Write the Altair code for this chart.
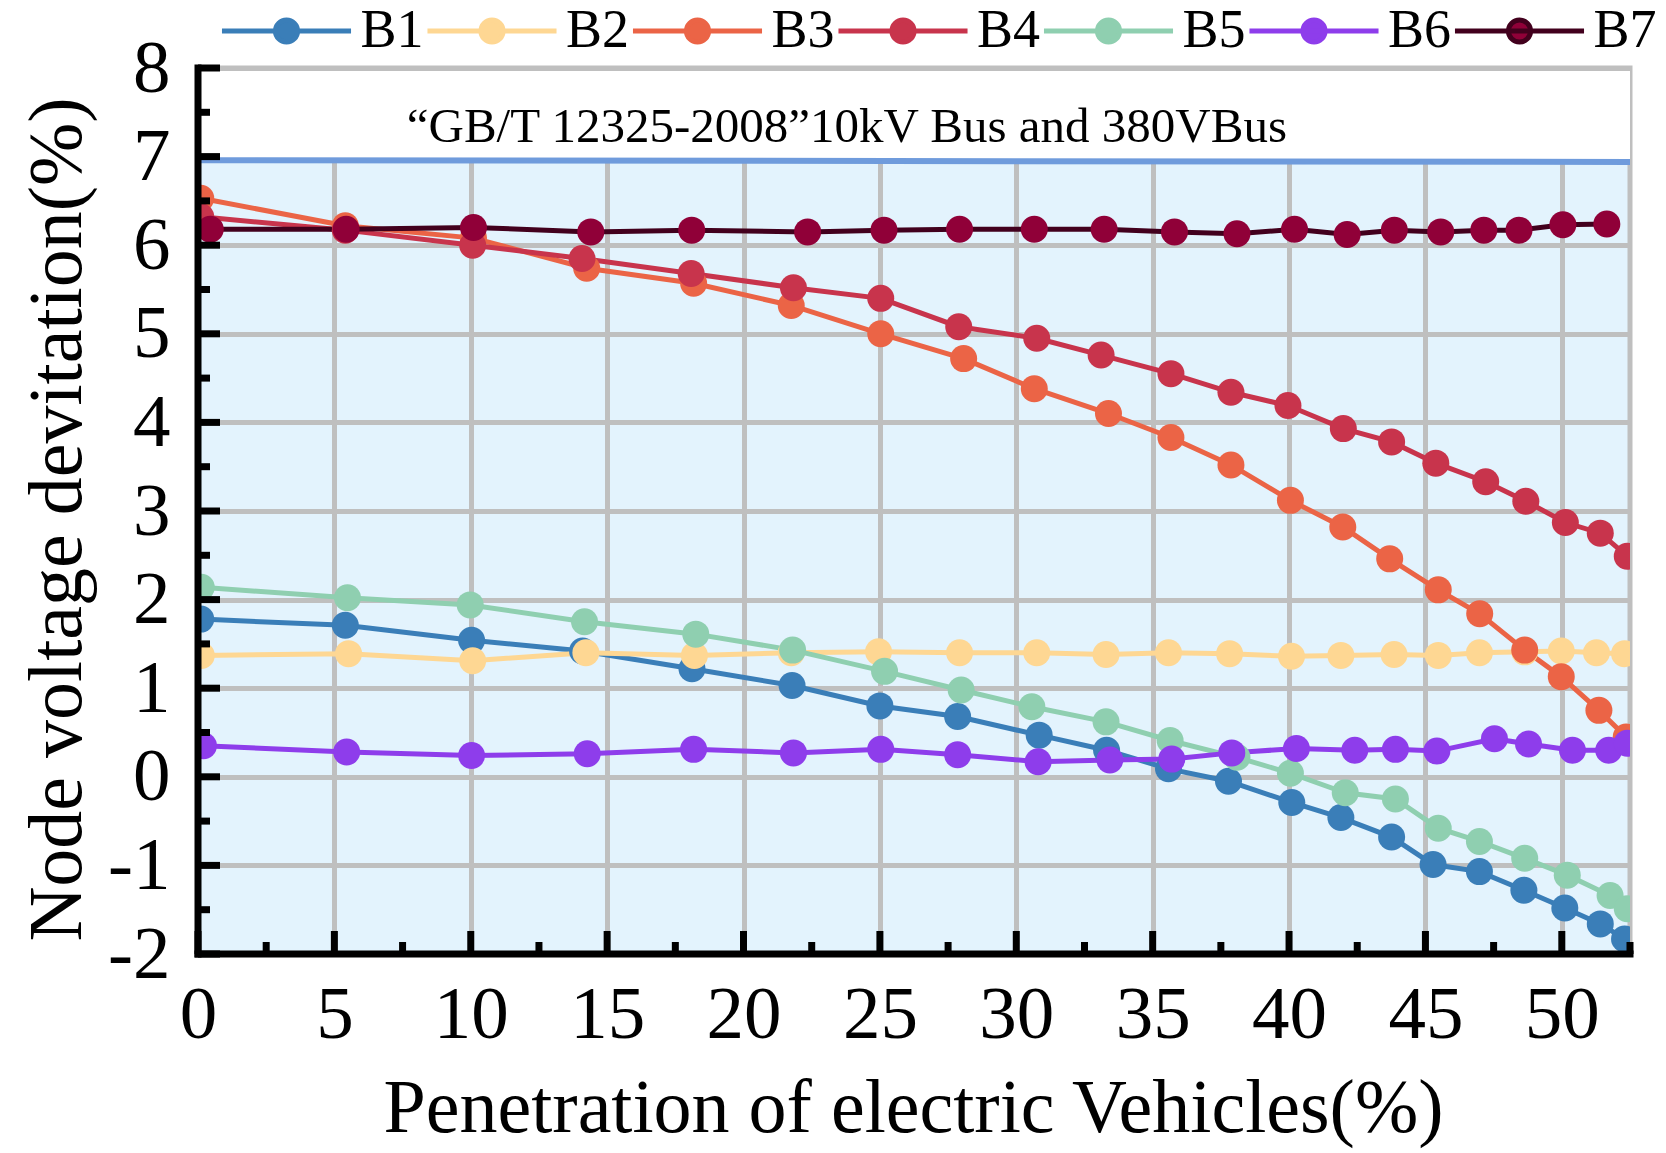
"""
Node voltage deviation vs. EV penetration, seven buses (B1-B7)
"""
import pandas as pd
import altair as alt

# Series
series = ["B1", "B2", "B3", "B4", "B5", "B6", "B7"]

b1_x = [0.1, 5.4, 10.03, 14.1, 18.11, 21.78, 25.0, 27.85, 30.84, 33.31, 35.58, 37.78, 40.1, 41.9, 43.76, 45.28, 46.98, 48.61, 50.11, 51.41, 52.3]
b1_y = [1.78, 1.71, 1.54, 1.42, 1.22, 1.03, 0.80, 0.68, 0.47, 0.30, 0.09, -0.05, -0.29, -0.46, -0.68, -0.99, -1.07, -1.28, -1.48, -1.66, -1.83]

b2_x = [0.12, 5.52, 10.07, 14.22, 18.2, 21.75, 24.95, 27.92, 30.75, 33.29, 35.58, 37.82, 40.09, 41.9, 43.85, 45.47, 46.98, 48.64, 49.98, 51.27, 52.3]
b2_y = [1.37, 1.39, 1.31, 1.40, 1.37, 1.40, 1.41, 1.40, 1.40, 1.38, 1.40, 1.39, 1.36, 1.37, 1.38, 1.37, 1.40, 1.41, 1.42, 1.40, 1.39]

b3_x = [0.1, 5.4, 10.1, 14.25, 18.17, 21.75, 25.03, 28.07, 30.66, 33.38, 35.67, 37.87, 40.05, 41.97, 43.69, 45.47, 46.99, 48.64, 49.98, 51.36, 52.36]
b3_y = [6.53, 6.22, 6.08, 5.74, 5.57, 5.32, 5.0, 4.72, 4.38, 4.10, 3.83, 3.52, 3.12, 2.82, 2.46, 2.11, 1.84, 1.43, 1.13, 0.75, 0.45]

b4_x = [0.1, 5.4, 10.07, 14.08, 18.08, 21.83, 25.03, 27.89, 30.75, 33.11, 35.67, 37.87, 39.96, 41.99, 43.76, 45.38, 47.21, 48.68, 50.13, 51.41, 52.4]
b4_y = [6.32, 6.17, 6.0, 5.85, 5.68, 5.52, 5.40, 5.08, 4.95, 4.76, 4.55, 4.34, 4.19, 3.93, 3.78, 3.54, 3.33, 3.11, 2.87, 2.75, 2.49]

b5_x = [0.12, 5.48, 9.98, 14.17, 18.25, 21.8, 25.17, 27.98, 30.57, 33.29, 35.64, 38.09, 40.05, 42.06, 43.9, 45.47, 46.98, 48.64, 50.2, 51.77, 52.4]
b5_y = [2.14, 2.02, 1.94, 1.75, 1.61, 1.43, 1.19, 0.98, 0.79, 0.62, 0.41, 0.22, 0.04, -0.18, -0.25, -0.58, -0.73, -0.92, -1.11, -1.34, -1.49]

b6_x = [0.2, 5.45, 10.03, 14.27, 18.17, 21.83, 25.03, 27.85, 30.8, 33.43, 35.7, 37.9, 40.27, 42.41, 43.9, 45.42, 47.53, 48.78, 50.39, 51.72, 52.4]
b6_y = [0.35, 0.28, 0.24, 0.26, 0.31, 0.27, 0.31, 0.25, 0.17, 0.19, 0.20, 0.27, 0.32, 0.30, 0.31, 0.29, 0.43, 0.37, 0.30, 0.30, 0.38]

b7_x = [0.45, 5.43, 10.1, 14.4, 18.1, 22.35, 25.15, 27.92, 30.66, 33.22, 35.8, 38.09, 40.2, 42.13, 43.86, 45.56, 47.14, 48.43, 50.04, 51.65]
b7_y = [6.18, 6.18, 6.2, 6.15, 6.17, 6.15, 6.17, 6.18, 6.18, 6.18, 6.15, 6.13, 6.18, 6.12, 6.17, 6.15, 6.17, 6.17, 6.23, 6.24]

line_colors = ["#3a7eb8", "#fed793", "#eb6446", "#c8344c", "#8fcfb0", "#8e3deb", "#42001d"]
dot_colors = ["#3a7eb8", "#fed793", "#eb6446", "#c8344c", "#8fcfb0", "#8e3deb", "#900038"]

# standard limit line and its label
limit_x = [0, 52.5]
limit_y = [6.96, 6.94]
note = "\u201cGB/T 12325-2008\u201d10kV Bus and 380VBus"
note_x = [23.79]
note_y = [7.17]

# axis ticks
x_major = [0, 5, 10, 15, 20, 25, 30, 35, 40, 45, 50]
x_minor = [2.5, 7.5, 12.5, 17.5, 22.5, 27.5, 32.5, 37.5, 42.5, 47.5, 52.5]
y_major = [-2, -1, 0, 1, 2, 3, 4, 5, 6, 7, 8]
y_minor = [-1.5, -0.5, 0.5, 1.5, 2.5, 3.5, 4.5, 5.5, 6.5, 7.5]

xs_all = [b1_x, b2_x, b3_x, b4_x, b5_x, b6_x, b7_x]
ys_all = [b1_y, b2_y, b3_y, b4_y, b5_y, b6_y, b7_y]
rows = []
for name, xs, ys in zip(series, xs_all, ys_all):
    for xv, yv in zip(xs, ys):
        rows.append({"series": name, "x": xv, "y": yv})
data = pd.DataFrame(rows)

W, H = 1432, 886
FONT = "Liberation Serif"
GRID = "#bfbfbf"

x_scale = alt.Scale(domain=[0, 52.5], nice=False, zero=False)
y_scale = alt.Scale(domain=[-2, 8], nice=False, zero=False)

# custom legend symbol: line with a dot in the middle
legend_path = "M-4.78,0H4.78M0.82,0A0.82,0.82,0,1,1,-0.82,0A0.82,0.82,0,1,1,0.82,0Z"


def make_legend():
    return alt.Legend(
        title=None, orient="none", legendX=61.5, legendY=-64,
        direction="horizontal", symbolType=legend_path, symbolSize=729,
        symbolStrokeWidth=5, symbolOpacity=1, labelFont=FONT, labelFontSize=54,
        labelColor="black", labelOffset=47, columnPadding=-7.5, padding=0,
    )


x_axis = alt.Axis(
    values=x_major, title="Penetration of electric Vehicles(%)",
    domain=False, ticks=False, tickSize=0, grid=True, gridColor=GRID, gridWidth=5,
    labelFont=FONT, labelFontSize=75, labelColor="black", labelPadding=83,
    labelBaseline="alphabetic", labelFlush=False, labelOverlap=False,
    titleFont=FONT, titleFontSize=76, titleFontWeight="normal", titleColor="black",
    titleX=715, titleY=177, titleBaseline="alphabetic",
)
y_axis = alt.Axis(
    values=y_major, title="Node voltage devitation(%)",
    domain=False, ticks=False, tickSize=0, grid=True, gridColor=GRID, gridWidth=5,
    labelFont=FONT, labelFontSize=75, labelColor="black", labelPadding=28,
    labelBaseline="middle", labelFlush=False, labelOverlap=False,
    labelExpr="replace(datum.label, '\u2212', '-')",
    titleFont=FONT, titleFontSize=76, titleFontWeight="normal", titleColor="black",
    titleX=-118, titleY=451, titleAngle=270, titleBaseline="alphabetic",
)


def X(field):
    return alt.X(field, scale=x_scale, axis=x_axis)


def Y(field):
    return alt.Y(field, scale=y_scale, axis=y_axis)


limit_df = pd.DataFrame({"x": limit_x, "y": limit_y})

# white band above the limit line
band = alt.Chart(limit_df).mark_area(color="white", y2Offset=3).encode(
    x=X("x:Q"), y=Y("y:Q"), y2=alt.datum(8),
)

limit_line = alt.Chart(limit_df).mark_line(color="#6f9bdc", strokeWidth=6).encode(
    x=X("x:Q"), y=Y("y:Q"),
)

note_text = alt.Chart(pd.DataFrame({"x": note_x, "y": note_y, "t": [note]})).mark_text(
    font=FONT, fontSize=49, color="black", baseline="alphabetic", align="center"
).encode(
    x=X("x:Q"), y=Y("y:Q"), text="t:N",
)

lines = alt.Chart(data).mark_line(strokeWidth=5, clip=True).encode(
    x=X("x:Q"), y=Y("y:Q"),
    stroke=alt.Stroke("series:N", scale=alt.Scale(domain=series, range=line_colors), legend=make_legend()),
)

points = alt.Chart(data).mark_circle(size=729, opacity=1, clip=True).encode(
    x=X("x:Q"), y=Y("y:Q"),
    fill=alt.Fill("series:N", scale=alt.Scale(domain=series, range=dot_colors), legend=make_legend()),
)

# axis lines and inward ticks
frame = pd.DataFrame({"k": [0]})
y_line = alt.Chart(frame).mark_rule(color="black", strokeWidth=7, strokeCap="square").encode(
    x=alt.value(0), y=alt.value(0), y2=alt.value(H)
)
x_line = alt.Chart(frame).mark_rule(color="black", strokeWidth=7, strokeCap="square").encode(
    x=alt.value(0), x2=alt.value(W), y=alt.value(H)
)
y_major_ticks = alt.Chart(pd.DataFrame({"y": y_major})).mark_rule(color="black", strokeWidth=7).encode(
    y=Y("y:Q"), x=alt.value(0), x2=alt.value(22)
)
y_minor_ticks = alt.Chart(pd.DataFrame({"y": y_minor})).mark_rule(color="black", strokeWidth=7).encode(
    y=Y("y:Q"), x=alt.value(0), x2=alt.value(12)
)
x_major_ticks = alt.Chart(pd.DataFrame({"x": x_major})).mark_rule(color="black", strokeWidth=7).encode(
    x=X("x:Q"), y=alt.value(H), y2=alt.value(H - 23)
)
x_minor_ticks = alt.Chart(pd.DataFrame({"x": x_minor})).mark_rule(color="black", strokeWidth=7).encode(
    x=X("x:Q"), y=alt.value(H), y2=alt.value(H - 12)
)

chart = alt.layer(
    band, limit_line, note_text, lines, points,
    y_line, x_line, y_major_ticks, y_minor_ticks, x_major_ticks, x_minor_ticks,
).properties(
    width=W, height=H,
    autosize=alt.AutoSizeParams(type="none"),
    padding={"left": 190, "top": 60, "right": 28, "bottom": 199},
    background="white",
).configure_view(
    fill="#e3f3fd", stroke=GRID, strokeWidth=5
)

chart.save("out.html", embed_options={"renderer": "svg", "actions": False})
